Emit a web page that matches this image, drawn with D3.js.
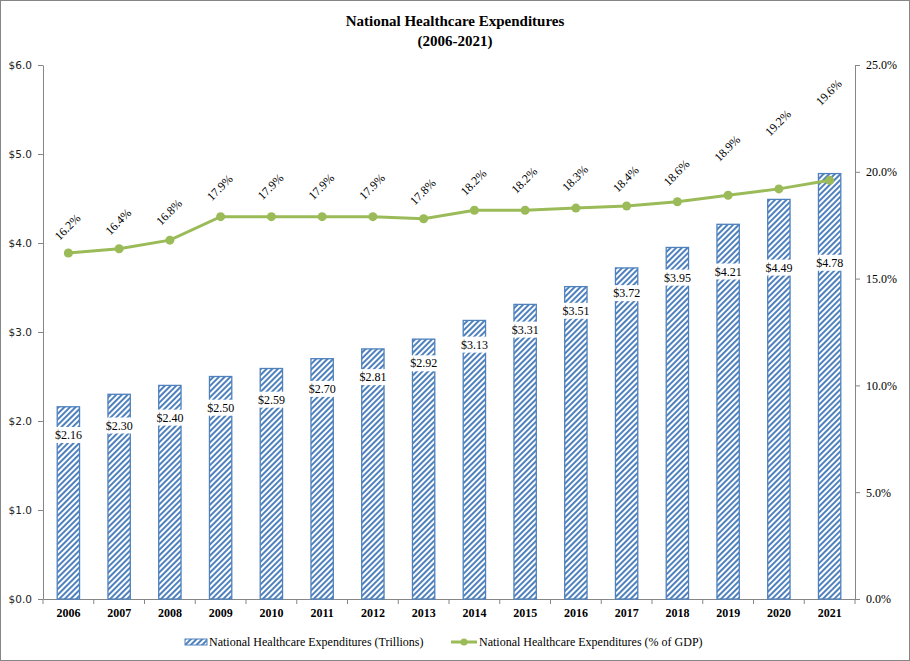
<!DOCTYPE html>
<html>
<head>
<meta charset="utf-8">
<script src="https://cdn.jsdelivr.net/npm/d3@7"></script>
<style>
  body { margin: 0; background: #fff; }
  text { font-family: "Liberation Serif", "Times New Roman", serif; }
</style>
</head>
<body>
<div id="chart-area"></div>
<script>
// data
var years = ["2006", "2007", "2008", "2009", "2010", "2011", "2012", "2013",
             "2014", "2015", "2016", "2017", "2018", "2019", "2020", "2021"];
var spending = [2.16, 2.30, 2.40, 2.50, 2.59, 2.70, 2.81, 2.92,
                3.13, 3.31, 3.51, 3.72, 3.95, 4.21, 4.49, 4.78];
var gdpShare = [16.2, 16.4, 16.8, 17.9, 17.9, 17.9, 17.9, 17.8,
                18.2, 18.2, 18.3, 18.4, 18.6, 18.9, 19.2, 19.6];
var dollarTicks = [0, 1, 2, 3, 4, 5, 6];
var pctTicks = [0, 5, 10, 15, 20, 25];

// label nudges in px (labels were dragged by hand in the original)
var barLabelDrop = [28, 31, 32, 31, 31, 30, 28, 24, 24, 25, 24, 25, 30, 47, 68, 89];
var pctLabelRise = [26, 27, 28, 29, 30, 30, 30, 27, 28, 30, 30, 27, 29, 47, 66, 88];

var blue = "#4f81bd";
var green = "#9bbb59";
var axisGrey = "#868686";
var serif = "'Liberation Serif', 'Times New Roman', serif";

var margin = { top: 65, right: 55, bottom: 62, left: 43 };
var fullW = 910, fullH = 661;
var width = fullW - margin.left - margin.right;
var height = fullH - margin.top - margin.bottom;

var root = d3.select("#chart-area")
  .append("svg")
  .attr("width", fullW)
  .attr("height", fullH);

// hatch pattern for the bars
var defs = root.append("defs");
defs.append("pattern")
  .attr("id", "hatch")
  .attr("patternUnits", "userSpaceOnUse")
  .attr("width", 4)
  .attr("height", 4)
  .attr("patternTransform", "rotate(45)")
  .call(p => {
    p.append("rect").attr("width", 4).attr("height", 4).attr("fill", "#fff");
    p.append("rect").attr("x", 0).attr("y", 0).attr("width", 2).attr("height", 4)
      .attr("fill", blue);
  });

// outer border
root.append("rect")
  .attr("x", 0.5).attr("y", 0.5)
  .attr("width", fullW - 1).attr("height", fullH - 1)
  .attr("fill", "#fff").attr("stroke", axisGrey);

// title
var title = root.append("text")
  .attr("text-anchor", "middle")
  .attr("font-weight", "bold")
  .attr("font-size", "15px")
  .style("font-family", serif)
  .attr("fill", "#000");
title.append("tspan").attr("x", fullW / 2).attr("y", 26).text("National Healthcare Expenditures");
title.append("tspan").attr("x", fullW / 2).attr("y", 46).text("(2006-2021)");

var svg = root.append("g")
  .attr("transform", `translate(${margin.left}, ${margin.top})`);

// scales
var x = d3.scaleBand()
  .domain(years)
  .range([0, width])
  .paddingInner(0.56)
  .paddingOuter(0.28);

var xCat = d3.scaleBand().domain(years).range([0, width]);

var y = d3.scaleLinear().domain([0, 6]).range([height, 0]);
var y2 = d3.scaleLinear().domain([0, 25]).range([height, 0]);

// axes
var yAxis = d3.axisLeft(y)
  .tickValues(dollarTicks)
  .tickSize(5)
  .tickSizeOuter(0)
  .tickPadding(6)
  .tickFormat(d => "$" + d3.format(".1f")(d));

var y2Axis = d3.axisRight(y2)
  .tickValues(pctTicks)
  .tickSize(5)
  .tickSizeOuter(0)
  .tickPadding(6)
  .tickFormat(d => d3.format(".1f")(d) + "%");

var xAxis = d3.axisBottom(xCat).tickSize(0).tickSizeOuter(0).tickPadding(9);

var gy = svg.append("g").attr("class", "y-axis axis").call(yAxis);
gy.selectAll("text")
  .style("font-family", "'DejaVu Sans', Tahoma, sans-serif")
  .attr("font-size", "10.5px").attr("fill", "#222");

var gy2 = svg.append("g").attr("class", "y2-axis axis")
  .attr("transform", `translate(${width}, 0)`)
  .call(y2Axis);
gy2.selectAll("text").style("font-family", serif).attr("font-size", "12px").attr("fill", "#000");

var gx = svg.append("g").attr("class", "x-axis axis")
  .attr("transform", `translate(0, ${height})`)
  .call(xAxis);
gx.selectAll("text").style("font-family", serif)
  .attr("font-size", "12px").attr("font-weight", "bold").attr("fill", "#000");

// category boundary ticks
gx.selectAll(".cat-tick")
  .data(years.map(d => xCat(d)).concat([width]))
  .join("line")
  .attr("class", "cat-tick")
  .attr("x1", d => d).attr("x2", d => d)
  .attr("y1", 0).attr("y2", 5)
  .attr("stroke", axisGrey);

svg.selectAll(".axis path, .axis line").attr("stroke", axisGrey);

// bars
var rows = years.map((yr, i) => ({ year: yr, val: spending[i], pct: gdpShare[i], i: i }));

svg.selectAll(".bar")
  .data(rows)
  .join("rect")
  .attr("class", "bar")
  .attr("x", d => x(d.year))
  .attr("y", d => y(d.val))
  .attr("width", x.bandwidth())
  .attr("height", d => height - y(d.val))
  .attr("fill", "url(#hatch)")
  .attr("stroke", blue)
  .attr("stroke-width", 1.3);

// bar value labels on white boxes
var barLabels = svg.selectAll(".bar-label")
  .data(rows)
  .join("g")
  .attr("class", "bar-label")
  .attr("transform", d => `translate(${x(d.year) + x.bandwidth() / 2}, ${y(d.val) + barLabelDrop[d.i]})`);

barLabels.append("rect").attr("fill", "#fff");
barLabels.append("text")
  .attr("text-anchor", "middle")
  .attr("dy", "0.35em")
  .attr("font-size", "12px")
  .style("font-family", serif)
  .attr("fill", "#000")
  .text(d => "$" + d3.format(".2f")(d.val));
barLabels.each(function () {
  var g = d3.select(this);
  var bb = g.select("text").node().getBBox();
  g.select("rect")
    .attr("x", bb.x - 2).attr("y", bb.y - 1)
    .attr("width", bb.width + 4).attr("height", bb.height + 2);
});

// % of GDP line
var cx = d => x(d.year) + x.bandwidth() / 2;

var line = d3.line().x(cx).y(d => y2(d.pct));

svg.append("path")
  .datum(rows)
  .attr("fill", "none")
  .attr("stroke", green)
  .attr("stroke-width", 3)
  .attr("d", line);

svg.selectAll(".dot")
  .data(rows)
  .join("circle")
  .attr("class", "dot")
  .attr("cx", cx)
  .attr("cy", d => y2(d.pct))
  .attr("r", 4.5)
  .attr("fill", green);

svg.selectAll(".pct-label")
  .data(rows)
  .join("text")
  .attr("class", "pct-label")
  .attr("text-anchor", "middle")
  .attr("dy", "0.35em")
  .attr("font-size", "12px")
  .style("font-family", serif)
  .attr("fill", "#000")
  .attr("transform", d => `translate(${cx(d) - 1}, ${y2(d.pct) - pctLabelRise[d.i]}) rotate(-45)`)
  .text(d => d3.format(".1f")(d.pct) + "%");

// legend
var legend = root.append("g").attr("transform", "translate(0, 642)");
legend.append("rect")
  .attr("x", 185).attr("y", -3)
  .attr("width", 22).attr("height", 6)
  .attr("fill", "url(#hatch)")
  .attr("stroke", blue).attr("stroke-width", 1);
legend.append("text")
  .attr("x", 209).attr("dy", "0.35em")
  .attr("font-size", "12px").style("font-family", serif).attr("fill", "#000")
  .text("National Healthcare Expenditures (Trillions)");
legend.append("line")
  .attr("x1", 451).attr("x2", 477).attr("y1", 0).attr("y2", 0)
  .attr("stroke", green).attr("stroke-width", 3);
legend.append("circle").attr("cx", 464).attr("cy", 0).attr("r", 3.5).attr("fill", green);
legend.append("text")
  .attr("x", 479).attr("dy", "0.35em")
  .attr("font-size", "12px").style("font-family", serif).attr("fill", "#000")
  .text("National Healthcare Expenditures (% of GDP)");
</script>
</body>
</html>
